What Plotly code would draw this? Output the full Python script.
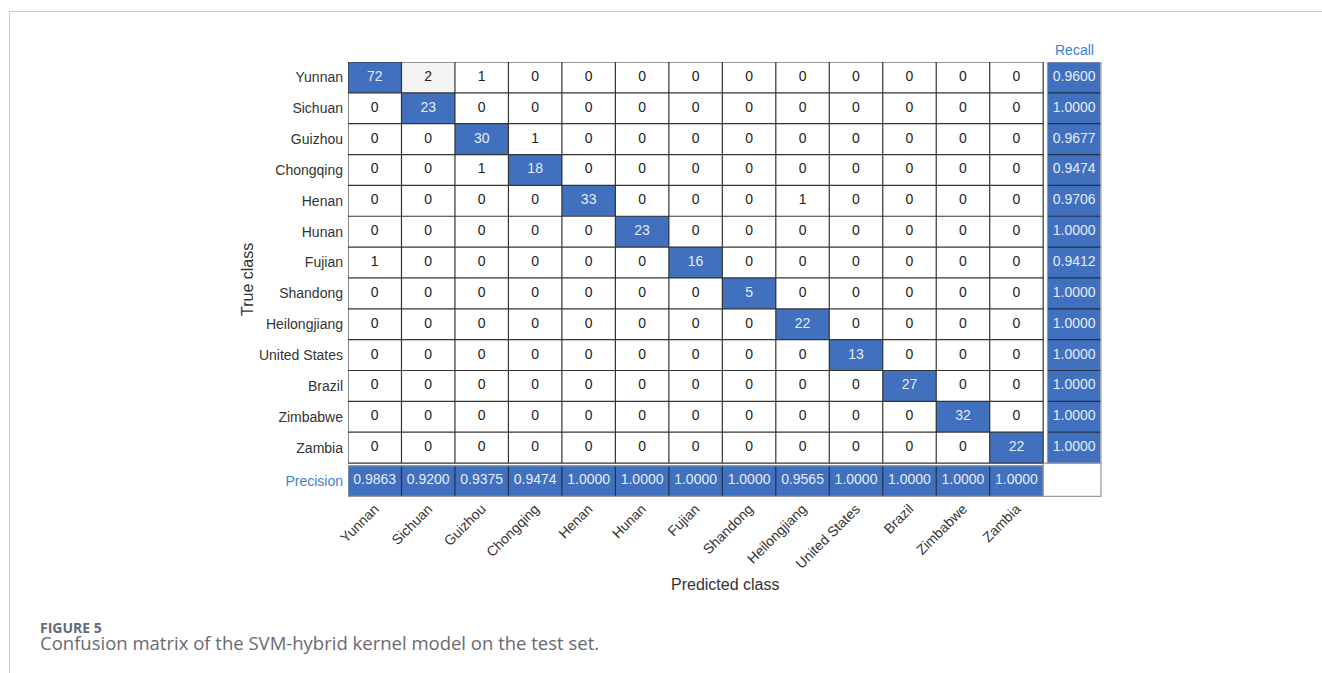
import plotly.graph_objects as go

# ---- data -------------------------------------------------------------
classes = ["Yunnan", "Sichuan", "Guizhou", "Chongqing", "Henan", "Hunan", "Fujian",
           "Shandong", "Heilongjiang", "United States", "Brazil", "Zimbabwe", "Zambia"]

counts = [
    [72, 2, 1, 0, 0, 0, 0, 0, 0, 0, 0, 0, 0],
    [0, 23, 0, 0, 0, 0, 0, 0, 0, 0, 0, 0, 0],
    [0, 0, 30, 1, 0, 0, 0, 0, 0, 0, 0, 0, 0],
    [0, 0, 1, 18, 0, 0, 0, 0, 0, 0, 0, 0, 0],
    [0, 0, 0, 0, 33, 0, 0, 0, 1, 0, 0, 0, 0],
    [0, 0, 0, 0, 0, 23, 0, 0, 0, 0, 0, 0, 0],
    [1, 0, 0, 0, 0, 0, 16, 0, 0, 0, 0, 0, 0],
    [0, 0, 0, 0, 0, 0, 0, 5, 0, 0, 0, 0, 0],
    [0, 0, 0, 0, 0, 0, 0, 0, 22, 0, 0, 0, 0],
    [0, 0, 0, 0, 0, 0, 0, 0, 0, 13, 0, 0, 0],
    [0, 0, 0, 0, 0, 0, 0, 0, 0, 0, 27, 0, 0],
    [0, 0, 0, 0, 0, 0, 0, 0, 0, 0, 0, 32, 0],
    [0, 0, 0, 0, 0, 0, 0, 0, 0, 0, 0, 0, 22],
]

precision = [0.9863, 0.9200, 0.9375, 0.9474, 1.0000, 1.0000, 1.0000,
             1.0000, 0.9565, 1.0000, 1.0000, 1.0000, 1.0000]
recall = [0.9600, 1.0000, 0.9677, 0.9474, 0.9706, 1.0000, 0.9412,
          1.0000, 1.0000, 1.0000, 1.0000, 1.0000, 1.0000]

# ---- styling ----------------------------------------------------------
BLUE = "#4170be"
LIGHT = "#f3f3f3"
CELL_TXT_ON_BLUE = "#e4ecf8"
CELL_TXT = "#222222"
GRID = "#333333"
EDGE = "#9a9a9a"
LABEL_BLUE = "#3f7fcf"
FONT = "Liberation Sans, Arial, sans-serif"
CAP_FONT = "Open Sans, Noto Sans, sans-serif"
FS = 14

n = len(classes)
idx = list(range(n))
SUMMARY_POS = 13.08  # position of the precision row / recall column

# colour category per cell: 2 = correct (diagonal), 1 = repeated confusion, 0 = empty/single
cat = [[2 if i == j else (1 if counts[i][j] >= 2 else 0) for j in idx] for i in idx]

fig = go.Figure()

fig.add_trace(go.Heatmap(
    x=idx, y=idx, z=cat, zmin=0, zmax=2,
    colorscale=[[0, "#ffffff"], [0.5, LIGHT], [1, BLUE]],
    showscale=False, hoverinfo="skip",
))
fig.add_trace(go.Heatmap(
    x=idx, y=[SUMMARY_POS], z=[[1] * n], zmin=0, zmax=1,
    colorscale=[[0, BLUE], [1, BLUE]], showscale=False, hoverinfo="skip",
))
fig.add_trace(go.Heatmap(
    x=[SUMMARY_POS], y=idx, z=[[1] for _ in idx], zmin=0, zmax=1,
    colorscale=[[0, BLUE], [1, BLUE]], showscale=False, hoverinfo="skip",
))

# cell labels
tx, ty, tt, tc = [], [], [], []
for i in idx:
    for j in idx:
        tx.append(j)
        ty.append(i)
        tt.append(str(counts[i][j]))
        tc.append(CELL_TXT_ON_BLUE if i == j else CELL_TXT)
fig.add_trace(go.Scatter(x=tx, y=ty, text=tt, mode="text",
                         textfont=dict(family=FONT, size=FS, color=tc),
                         hoverinfo="skip", showlegend=False))
fig.add_trace(go.Scatter(x=idx, y=[SUMMARY_POS] * n, text=[f"{p:.4f}" for p in precision],
                         mode="text", textfont=dict(family=FONT, size=FS, color=CELL_TXT_ON_BLUE),
                         hoverinfo="skip", showlegend=False))
fig.add_trace(go.Scatter(x=[SUMMARY_POS] * n, y=idx, text=[f"{r:.4f}" for r in recall],
                         mode="text", textfont=dict(family=FONT, size=FS, color=CELL_TXT_ON_BLUE),
                         hoverinfo="skip", showlegend=False))

shapes = []
lo, hi = -0.5, n - 0.5
s_lo, s_hi = SUMMARY_POS - 0.5, SUMMARY_POS + 0.5
# main grid
for k in range(n + 1):
    p = k - 0.5
    shapes.append(dict(type="line", xref="x", yref="y", x0=p, x1=p, y0=lo, y1=hi,
                       line=dict(color=GRID, width=1.2)))
    shapes.append(dict(type="line", xref="x", yref="y", x0=lo, x1=hi, y0=p, y1=p,
                       line=dict(color=GRID, width=1.2)))
# separators in the summary strips
for k in range(1, n):
    p = k - 0.5
    shapes.append(dict(type="line", xref="x", yref="y", x0=p, x1=p, y0=s_lo, y1=s_hi,
                       line=dict(color="#23324a", width=1.2)))
    shapes.append(dict(type="line", xref="x", yref="y", x0=s_lo, x1=s_hi, y0=p, y1=p,
                       line=dict(color="#23324a", width=1.2)))
# outer frames
shapes.append(dict(type="rect", xref="x", yref="y", x0=lo, x1=hi, y0=s_lo, y1=s_hi,
                   line=dict(color=EDGE, width=1.2)))
shapes.append(dict(type="rect", xref="x", yref="y", x0=s_lo, x1=s_hi, y0=lo, y1=hi,
                   line=dict(color=EDGE, width=1.2)))
shapes.append(dict(type="rect", xref="x", yref="y", x0=hi, x1=s_hi, y0=hi, y1=s_hi,
                   line=dict(color=EDGE, width=1.2), fillcolor="white", layer="below"))

# page frame
W, H = 1322, 673
ML, MR, MT, MB = 348, 220, 62, 176
PW, PH = W - ML - MR, H - MT - MB


def px(x):
    return (x - ML) / PW


def py(y):
    return 1 - (y - MT) / PH


shapes.append(dict(type="line", xref="paper", yref="paper", x0=px(9), x1=px(W), y0=py(11.5), y1=py(11.5),
                   line=dict(color="#c8c8c8", width=1)))
shapes.append(dict(type="line", xref="paper", yref="paper", x0=px(9.5), x1=px(9.5), y0=py(11), y1=py(H),
                   line=dict(color="#c8c8c8", width=1)))

caption = ("<span style='font-size:14px;font-weight:bold;color:#5f6b78'>FIGURE 5</span><br>"
           "<span style='font-size:18.5px;color:#6a6a70'>"
           "Confusion matrix of the SVM-hybrid kernel model on the test set.</span>")

annotations = [
    dict(x=SUMMARY_POS, y=-0.5, xref="x", yref="y", xanchor="center", yanchor="bottom", yshift=2,
         text="Recall", showarrow=False, font=dict(family=FONT, size=FS, color=LABEL_BLUE)),
    dict(x=px(247), y=py(280), xref="paper", yref="paper", xanchor="center", yanchor="middle",
         text="True class", textangle=-90,
         showarrow=False, font=dict(family=FONT, size=16, color="#333333")),
    dict(x=px(725), y=py(584), xref="paper", yref="paper", xanchor="center", yanchor="middle",
         text="Predicted class",
         showarrow=False, font=dict(family=FONT, size=16, color="#333333")),
    dict(x=px(38), y=py(636), xref="paper", yref="paper", xanchor="left", yanchor="middle",
         align="left", text=caption, showarrow=False,
         font=dict(family=CAP_FONT, size=13, color="#6a6a70")),
]

fig.update_layout(
    width=W, height=H,
    margin=dict(l=ML, r=MR, t=MT, b=MB, pad=0),
    paper_bgcolor="white", plot_bgcolor="white",
    showlegend=False,
    shapes=shapes, annotations=annotations,
    font=dict(family=FONT, size=FS, color="#333333"),
    xaxis=dict(range=[-0.5, SUMMARY_POS + 0.52], tickmode="array", tickvals=idx, ticktext=classes,
               tickangle=-45, showgrid=False, zeroline=False, showline=False, ticks="",
               tickfont=dict(family=FONT, size=FS, color="#333333"), fixedrange=True),
    yaxis=dict(range=[SUMMARY_POS + 0.52, -0.5], tickmode="array",
               tickvals=idx + [SUMMARY_POS],
               ticktext=classes + [f"<span style='color:{LABEL_BLUE}'>Precision</span>"],
               showgrid=False, zeroline=False, showline=False, ticks="", ticklabelstandoff=4,
               tickfont=dict(family=FONT, size=FS, color="#333333"), fixedrange=True),
)

fig.write_html("out.html")
